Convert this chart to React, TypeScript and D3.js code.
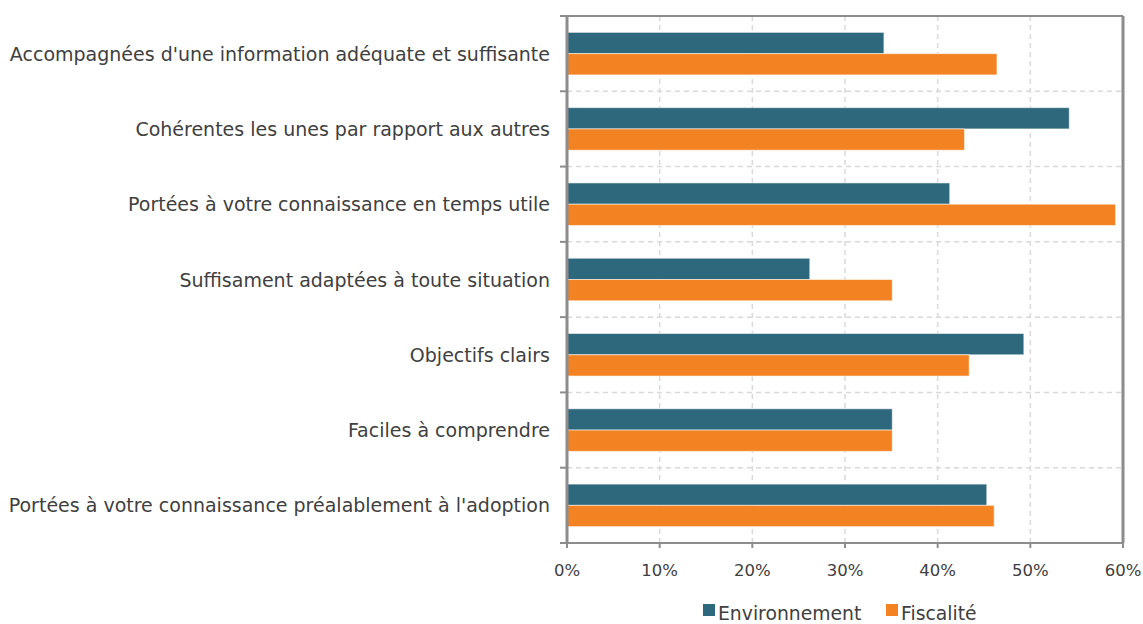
import React from "react";
import * as d3 from "d3";

const categories = [
  "Accompagnées d'une information adéquate et suffisante",
  "Cohérentes les unes par rapport aux autres",
  "Portées à votre connaissance en temps utile",
  "Suffisament adaptées à toute situation",
  "Objectifs clairs",
  "Faciles à comprendre",
  "Portées à votre connaissance préalablement à l'adoption",
];
const seriesNames = ["Environnement", "Fiscalité"];
const environnement = [34.2, 54.2, 41.3, 26.2, 49.3, 35.1, 45.3];
const fiscalite = [46.4, 42.9, 59.2, 35.1, 43.4, 35.1, 46.1];
const xTicks = [0, 10, 20, 30, 40, 50, 60];
const colors = ["#2E687C", "#F38322"];

const W = 1143;
const H = 624;
const left = 567;
const right = 1123;
const top = 16;
const bottom = 543;
const FONT = "'DejaVu Sans', sans-serif";
const TEXT = "#404040";
const AXIS = "#8c8c8c";
const GRID = "#d9d9d9";

export default function App() {
  const x = d3.scaleLinear().domain([0, 60]).range([left, right]);
  const y = d3.scaleBand<string>().domain(categories).range([top, bottom]).padding(0);
  const ys = d3
    .scaleBand<string>()
    .domain(seriesNames)
    .range([0, y.bandwidth()])
    .paddingInner(0)
    .paddingOuter(0.77);
  const values = [environnement, fiscalite];
  const boundaries = categories.map((c) => y(c) as number).concat([bottom]);

  return (
    <svg
      width={W}
      height={H}
      style={{ position: "absolute", left: 0, top: 0, background: "#fff" }}
      fontFamily={FONT}
    >
      {/* vertical grid */}
      {xTicks
        .filter((t) => t > 0 && t < 60)
        .map((t) => (
          <line
            key={"vg" + t}
            x1={x(t)}
            x2={x(t)}
            y1={top}
            y2={bottom}
            stroke={GRID}
            strokeWidth={1.5}
            strokeDasharray="5,4"
          />
        ))}
      {/* horizontal grid */}
      {boundaries.slice(1, -1).map((b, i) => (
        <line
          key={"hg" + i}
          x1={left}
          x2={right}
          y1={b}
          y2={b}
          stroke={GRID}
          strokeWidth={1.5}
          strokeDasharray="5,4"
        />
      ))}
      {/* bars */}
      {categories.map((c, i) =>
        seriesNames.map((s, k) => (
          <rect
            key={c + s}
            x={x(0)}
            y={(y(c) as number) + (ys(s) as number)}
            width={x(values[k][i]) - x(0)}
            height={ys.bandwidth()}
            fill={colors[k]}
            stroke="#ffffff"
            strokeOpacity={0.55}
            strokeWidth={1}
          />
        ))
      )}
      {/* frame */}
      <line x1={left - 6} x2={right} y1={top} y2={top} stroke={AXIS} strokeWidth={2} />
      <line x1={right} x2={right} y1={top} y2={bottom} stroke={AXIS} strokeWidth={3} />
      <line x1={left} x2={left} y1={top} y2={bottom} stroke={AXIS} strokeWidth={3} />
      <line x1={left - 6} x2={right} y1={bottom} y2={bottom} stroke={AXIS} strokeWidth={2} />
      {/* left ticks */}
      {boundaries.map((b, i) => (
        <line key={"lt" + i} x1={left - 7} x2={left} y1={b} y2={b} stroke={AXIS} strokeWidth={2} />
      ))}
      {/* bottom ticks */}
      {xTicks.map((t) => (
        <line key={"bt" + t} x1={x(t)} x2={x(t)} y1={bottom} y2={bottom + 5} stroke={AXIS} strokeWidth={2} />
      ))}
      {/* tick labels */}
      {xTicks.map((t) => (
        <text key={"tl" + t} x={x(t)} y={576} textAnchor="middle" fontSize={16.5} fill={TEXT}>
          {t + "%"}
        </text>
      ))}
      {/* category labels */}
      {categories.map((c) => (
        <text
          key={"cl" + c}
          x={550}
          y={(y(c) as number) + y.bandwidth() / 2 + 7}
          textAnchor="end"
          fontSize={19}
          fill={TEXT}
        >
          {c}
        </text>
      ))}
      {/* legend */}
      <rect x={703} y={604} width={12} height={12} fill={colors[0]} />
      <text x={718} y={620} fontSize={18.8} fill={TEXT}>
        {seriesNames[0]}
      </text>
      <rect x={886} y={604} width={12} height={12} fill={colors[1]} />
      <text x={901} y={620} fontSize={18.8} fill={TEXT}>
        {seriesNames[1]}
      </text>
    </svg>
  );
}
